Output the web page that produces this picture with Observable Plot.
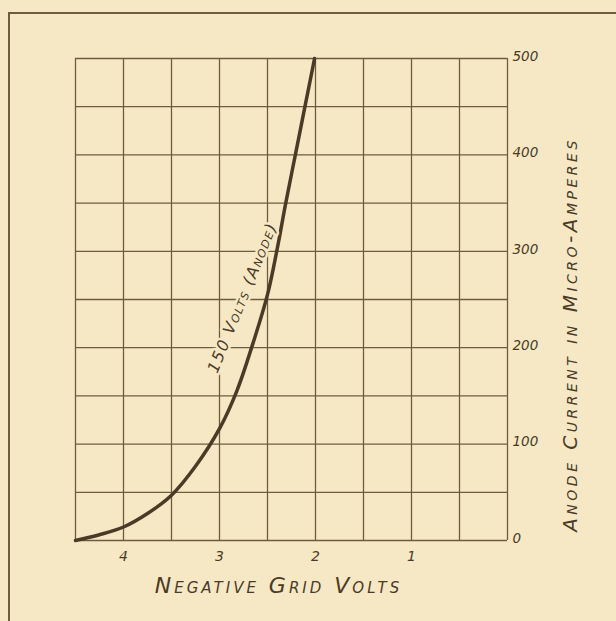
<!DOCTYPE html>
<html>
<head>
<meta charset="utf-8">
<script src="https://cdn.jsdelivr.net/npm/d3@7"></script>
<script src="https://cdn.jsdelivr.net/npm/@observablehq/plot@0.6"></script>
<style>
  html, body { margin: 0; padding: 0; background: #f6e8c4; }
  #wrap { position: relative; width: 616px; height: 621px; overflow: hidden; }
  #frame { position: absolute; left: 8px; top: 12px; width: 700px; height: 700px;
           border-top: 2px solid #6e5c40; border-left: 2px solid #6e5c40; pointer-events: none; }
</style>
</head>
<body>
<div id="wrap"><div id="frame"></div></div>
<script>
// Curve readings: negative grid volts vs anode current (micro-amperes)
const gridVolts = [4.5, 4.25, 4.0, 3.75, 3.5, 3.25, 3.0, 2.82, 2.65, 2.5, 2.4, 2.31, 2.21, 2.11, 2.01];
const anodeCurrent = [0, 6, 14, 28, 47, 77, 116, 155, 205, 255, 302, 350, 400, 450, 500];

// Grid lines and tick labels
const gridX = [0, 0.5, 1, 1.5, 2, 2.5, 3, 3.5, 4, 4.5];
const gridY = [0, 50, 100, 150, 200, 250, 300, 350, 400, 450, 500];
const xTicks = [1, 2, 3, 4];
const yTicks = [0, 100, 200, 300, 400, 500];

const xTitle = "Negative Grid Volts";
const yTitle = "Anode Current in Micro-Amperes";
const curveLabel = "150 Volts (Anode)";

const data = gridVolts.map((v, i) => ({volts: v, current: anodeCurrent[i]}));

const ink = "#4a3b27";
const gridInk = "#6e5c40";
const bg = "#f6e8c4";

const chart = Plot.plot({
  width: 616,
  height: 621,
  marginLeft: 75,
  marginRight: 109,
  marginTop: 58,
  marginBottom: 81,
  style: {background: "transparent", fontFamily: "DejaVu Sans", color: ink},
  x: {domain: [4.5, 0], axis: null},
  y: {domain: [0, 500], axis: null},
  marks: [
    Plot.ruleX(gridX, {stroke: gridInk, strokeWidth: 1.3}),
    Plot.ruleY(gridY, {stroke: gridInk, strokeWidth: 1.3}),
    Plot.axisX(xTicks, {anchor: "bottom", label: null, tickSize: 0, tickPadding: 11, fontSize: 14, fontStyle: "italic", fill: ink}),
    Plot.axisY(yTicks, {anchor: "right", label: null, tickSize: 0, tickPadding: 5, fontSize: 13.5, fontStyle: "italic", fill: ink, dy: -2}),
    Plot.line(data, {x: "volts", y: "current", curve: "catmull-rom", stroke: ink, strokeWidth: 3.5, strokeLinecap: "round"}),
    Plot.text([curveLabel], {x: 2.76, y: 252, text: d => d, rotate: -68, fontSize: 16, fontStyle: "italic",
      fontVariant: "small-caps", fill: ink, stroke: bg, strokeWidth: 5, textAnchor: "middle", lineAnchor: "middle"}),
    Plot.text([xTitle], {frameAnchor: "bottom", text: d => d, dx: -13, dy: 45, fontSize: 22, fontStyle: "italic",
      fontVariant: "small-caps", fill: ink, textAnchor: "middle", lineAnchor: "middle"}),
    Plot.text([yTitle], {frameAnchor: "right", text: d => d, dx: 63, dy: 35, rotate: -90, fontSize: 20, fontStyle: "italic",
      fontVariant: "small-caps", fill: ink, textAnchor: "middle", lineAnchor: "middle"})
  ]
});
// hand-lettered look: wider letter spacing for the three text marks
const textGroups = chart.querySelectorAll('g[aria-label="text"]');
const spacings = ["1.5px", "3px", "3.5px"];
textGroups.forEach((g, i) => { if (spacings[i]) g.style.letterSpacing = spacings[i]; });
document.getElementById("wrap").insertBefore(chart, document.getElementById("frame"));
</script>
</body>
</html>
